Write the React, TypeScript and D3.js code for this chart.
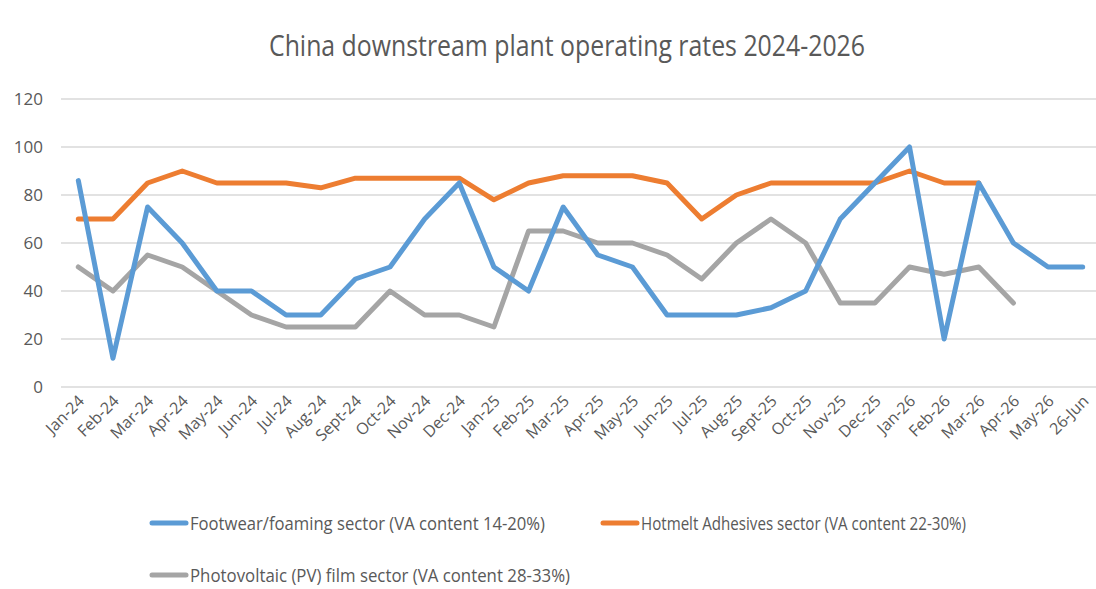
import React, { useEffect, useRef } from "react";
import * as d3 from "d3";

const categories = [
  "Jan-24", "Feb-24", "Mar-24", "Apr-24", "May-24", "Jun-24", "Jul-24", "Aug-24", "Sept-24", "Oct-24", "Nov-24", "Dec-24",
  "Jan-25", "Feb-25", "Mar-25", "Apr-25", "May-25", "Jun-25", "Jul-25", "Aug-25", "Sept-25", "Oct-25", "Nov-25", "Dec-25",
  "Jan-26", "Feb-26", "Mar-26", "Apr-26", "May-26", "26-Jun",
];

const footwear: (number | null)[] = [
  86, 12, 75, 60, 40, 40, 30, 30, 45, 50, 70, 85,
  50, 40, 75, 55, 50, 30, 30, 30, 33, 40, 70, 85,
  100, 20, 85, 60, 50, 50,
];

const hotmelt: (number | null)[] = [
  70, 70, 85, 90, 85, 85, 85, 83, 87, 87, 87, 87,
  78, 85, 88, 88, 88, 85, 70, 80, 85, 85, 85, 85,
  90, 85, 85, null, null, null,
];

const photovoltaic: (number | null)[] = [
  50, 40, 55, 50, 40, 30, 25, 25, 25, 40, 30, 30,
  25, 65, 65, 60, 60, 55, 45, 60, 70, 60, 35, 35,
  50, 47, 50, 35, null, null,
];

const yTicks = [0, 20, 40, 60, 80, 100, 120];

const seriesNames = [
  "Footwear/foaming sector (VA content 14-20%)",
  "Hotmelt Adhesives sector (VA content 22-30%)",
  "Photovoltaic (PV) film sector (VA content 28-33%)",
];
const seriesColors = ["#5B9BD5", "#ED7D31", "#A5A5A5"];

const W = 1096;
const H = 589;
const FONT = "'Open Sans', 'Liberation Sans', sans-serif";

export default function App() {
  const ref = useRef<SVGSVGElement>(null);

  useEffect(() => {
    const svg = d3.select(ref.current);
    svg.selectAll("*").remove();

    const left = 61;
    const right = 1100;
    const top = 99;
    const bottom = 387;

    const x = d3.scaleBand<string>().domain(categories).range([left, right]);
    const y = d3.scaleLinear().domain([0, 120]).range([bottom, top]);
    const cx = (c: string) => (x(c) as number) + x.bandwidth() / 2;

    svg.append("rect").attr("width", W).attr("height", H).attr("fill", "#ffffff");

    // title
    svg.append("text")
      .attr("x", 567).attr("y", 56)
      .attr("text-anchor", "middle")
      .attr("font-family", FONT)
      .attr("font-size", 30)
      .attr("font-weight", 400)
      .attr("fill", "#595959")
      .attr("textLength", 596)
      .attr("lengthAdjust", "spacingAndGlyphs")
      .text("China downstream plant operating rates 2024-2026");

    // gridlines
    svg.append("g").selectAll("line").data(yTicks).join("line")
      .attr("x1", left).attr("x2", W)
      .attr("y1", (d) => y(d)).attr("y2", (d) => y(d))
      .attr("stroke", "#D9D9D9").attr("stroke-width", 1.5);

    // y labels
    svg.append("g").selectAll("text").data(yTicks).join("text")
      .attr("x", 43).attr("y", (d) => y(d) + 6)
      .attr("text-anchor", "end")
      .attr("font-family", FONT)
      .attr("font-size", 17)
      .attr("fill", "#595959")
      .text((d) => String(d));

    // x labels
    svg.append("g").selectAll("text").data(categories).join("text")
      .attr("transform", (d) => `translate(${cx(d) + 7},${bottom + 15}) rotate(-45)`)
      .attr("text-anchor", "end")
      .attr("font-family", FONT)
      .attr("font-size", 16)
      .attr("fill", "#595959")
      .text((d) => d);

    const allSeries = [footwear, hotmelt, photovoltaic];
    const line = d3.line<number | null>()
      .defined((d) => d !== null)
      .x((_, i) => cx(categories[i]))
      .y((d) => y(d as number));

    // draw gray, orange, then blue on top
    [2, 1, 0].forEach((si) => {
      svg.append("path")
        .datum(allSeries[si])
        .attr("d", line as any)
        .attr("fill", "none")
        .attr("stroke", seriesColors[si])
        .attr("stroke-width", 5)
        .attr("stroke-linejoin", "round")
        .attr("stroke-linecap", "round");
    });

    // legend
    const legendItems = [
      { i: 0, x: 152, y: 523, w: 355 },
      { i: 1, x: 603, y: 523, w: 325 },
      { i: 2, x: 152, y: 575, w: 380 },
    ];
    const lg = svg.append("g");
    legendItems.forEach((it) => {
      lg.append("line")
        .attr("x1", it.x).attr("x2", it.x + 34)
        .attr("y1", it.y).attr("y2", it.y)
        .attr("stroke", seriesColors[it.i])
        .attr("stroke-width", 5)
        .attr("stroke-linecap", "round");
      lg.append("text")
        .attr("x", it.x + 38).attr("y", it.y + 7)
        .attr("font-family", FONT)
        .attr("font-size", 18)
        .attr("fill", "#595959")
        .attr("textLength", it.w)
        .attr("lengthAdjust", "spacingAndGlyphs")
        .text(seriesNames[it.i]);
    });
  }, []);

  return (
    <svg ref={ref} width={W} height={H} style={{ display: "block", position: "absolute", left: 0, top: 0 }} />
  );
}
